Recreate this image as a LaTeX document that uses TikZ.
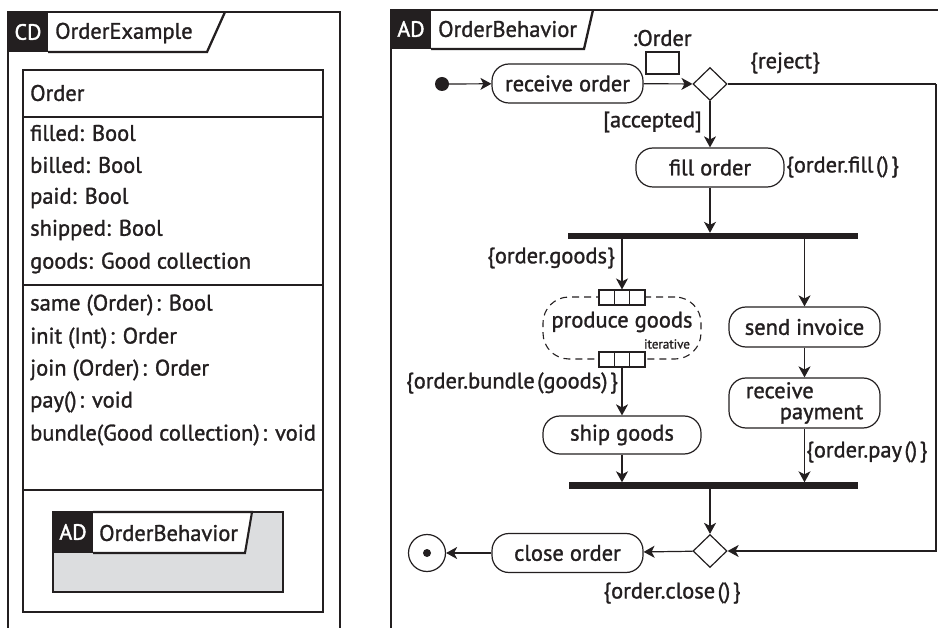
\documentclass[tikz,border=0pt]{standalone}
\usepackage{fontspec}
\setmainfont{PT Sans}[FakeBold=1.3]
\newfontfamily\tagfont{PT Sans}[FakeBold=1.8]
\usetikzlibrary{arrows.meta,shapes.geometric}

\definecolor{ink}{RGB}{35,31,32}
\definecolor{panel}{RGB}{220,221,223}

\tikzset{
  frameline/.style={draw=ink, line width=2.3pt},
  boxline/.style={draw=ink, line width=2.1pt},
  txt/.style={text=ink, inner sep=0pt, font=\fontsize{22.5}{25}\selectfont},
  member/.style={txt, anchor=west},
  smalltxt/.style={text=ink, inner sep=0pt, font=\fontsize{13}{15}\selectfont},
  tagtxt/.style={text=white, inner sep=0pt, font=\tagfont\fontsize{22}{25}\selectfont},
  action/.style={draw=ink, line width=1.2pt, rounded corners=17pt, fill=white,
    minimum width=151pt, minimum height=39pt, inner sep=0pt, text=ink,
    font=\fontsize{22.5}{25}\selectfont},
  decision/.style={diamond, draw=ink, line width=1.2pt, fill=white,
    minimum width=34pt, minimum height=33pt, inner sep=0pt},
  syncbar/.style={fill=ink, draw=none, minimum height=6pt, inner sep=0pt},
  pinrow/.style={draw=ink, fill=white, line width=1.1pt, minimum width=46pt,
    minimum height=15pt, inner sep=0pt},
  flow/.style={draw=ink, line width=1.2pt,
    -{Stealth[length=11pt,width=12pt,inset=3pt]}},
  edge/.style={draw=ink, line width=1.2pt}
}
\newcommand{\gp}{\kern2.5pt}

\begin{document}
\begin{tikzpicture}[x=1pt,y=-1pt]
\useasboundingbox (0,0) rectangle (938,628);

% ---------------- class diagram frame ----------------
\draw[frameline] (8,628) -- (8,12) -- (340,12) -- (340,628);
\fill[ink] (8,12) rectangle (48,52);
\draw[frameline] (48,52) -- (207,52) -- (225,12);
\node[tagtxt] (cdtag) at (28,32) {CD};
\node[member] (cdname) at (55,33) {OrderExample};

% class Order
\draw[boxline] (23,70) rectangle (323,612);
\draw[boxline] (23,117) -- (323,117);
\draw[boxline] (23,285) -- (323,285);
\draw[boxline] (23,490) -- (323,490);
\node[member] (cname) at (30,93) {Order};
\node[member] (a1) at (30,133) {filled: Bool};
\node[member] (a2) at (30,165) {billed: Bool};
\node[member] (a3) at (30,198) {paid: Bool};
\node[member] (a4) at (30,230) {shipped: Bool};
\node[member] (a5) at (30,263) {goods: Good collection};
\node[member] (o1) at (30,305) {same (Order)\gp: Bool};
\node[member] (o2) at (30,338) {init (Int)\gp: Order};
\node[member] (o3) at (30,370) {join (Order)\gp: Order};
\node[member] (o4) at (30,402) {pay()\gp: void};
\node[member] (o5) at (30,435) {bundle(Good collection)\gp: void};

% behaviour reference inside the class
\draw[boxline, fill=panel] (53,512) rectangle (283,592);
\draw[boxline, fill=white] (93,512) -- (252,512) -- (245,553) -- (93,553);
\fill[ink] (53,512) rectangle (93,553);
\node[tagtxt] (adtag2) at (73,532) {AD};
\node[member] (adname2) at (99,533) {OrderBehavior};

% ---------------- activity diagram frame ----------------
\draw[frameline] (391,628) -- (391,10) -- (938,10);
\fill[ink] (391,10) rectangle (431,49);
\draw[frameline] (431,49) -- (584,49) -- (593,10);
\node[tagtxt] (adtag) at (411,29) {AD};
\node[member] (adname) at (438,29) {OrderBehavior};

% nodes
\node[circle, fill=ink, minimum size=14pt, inner sep=0pt] (init) at (442,84) {};
\node[action] (recv) at (567.5,83.5) {receive order};
\node[pinrow, minimum width=33pt, minimum height=22pt] (opin) at (662.5,63) {};
\node[txt] (opinlbl) at (662,38) {:Order};
\node[decision] (d1) at (710,84) {};
\node[action, minimum width=148pt] (fill) at (710,167.5) {fill order};
\node[syncbar, minimum width=290pt] (fork) at (713,236) {};

\node[draw=ink, line width=1.1pt, dashed, dash pattern=on 7pt off 5pt,
  rounded corners=26pt, minimum width=158pt, minimum height=62pt]
  (prodbox) at (622,328) {};
\node[txt] (prod) at (622,322) {produce goods};
\node[smalltxt] (iter) at (667,344) {iterative};
\node[pinrow] (pinA) at (622,297.5) {};
\node[pinrow] (pinB) at (622,359.5) {};
\foreach \p in {pinA,pinB}{
  \draw[ink, line width=1.1pt] ([xshift=-7.67pt]\p.north) -- ([xshift=-7.67pt]\p.south);
  \draw[ink, line width=1.1pt] ([xshift=7.67pt]\p.north) -- ([xshift=7.67pt]\p.south);
}
\node[action, minimum width=158pt, minimum height=38pt] (ship) at (622,435) {ship goods};

\node[action, minimum height=40pt] (send) at (804.5,327) {send invoice};
\node[action, minimum height=50pt, align=left] (pay) at (804.5,403)
  {receive\\[-4pt]\hspace*{34pt}payment};

\node[syncbar, minimum width=289pt] (join) at (713.5,485.5) {};
\node[decision] (d2) at (710,551) {};
\node[action] (close) at (567.5,553) {close order};
\node[circle, draw=ink, line width=1.2pt, fill=white, minimum size=37pt, inner sep=0pt] (final) at (427,553) {};
\node[circle, fill=ink, minimum size=8pt, inner sep=0pt] (finaldot) at (final) {};

% connectors
\coordinate (rjtop) at (936,84);
\draw[flow] (init) -- (recv);
\draw[flow] (recv) -- (d1);
\draw[flow] (d1) -- (fill);
\draw[edge] (d1.east) -- (rjtop);
\draw[flow] (rjtop) |- (d2.east);
\draw[flow] (fill) -- (fill |- fork.north);
\draw[flow] (fork.south -| pinA) -- (pinA.north);
\draw[flow] (fork.south -| send) -- (send.north);
\draw[flow] (pinB) -- (ship);
\draw[flow] (send) -- (pay);
\draw[flow] (ship) -- (ship |- join.north);
\draw[flow] (pay) -- (pay |- join.north);
\draw[flow] (join.south -| d2) -- (d2.north);
\draw[flow] (d2) -- (close);
\draw[flow] (close) -- (final);

% guards and effects
\node[txt, anchor=west] (lreject) at (750,63) {\{reject\}};
\node[txt, anchor=east] (lacc) at (702,122) {[accepted]};
\node[txt, anchor=west] (lfill) at (786,167) {\{order.fill\gp()\gp\}};
\node[txt, anchor=east] (lgoods) at (615,258) {\{order.goods\}};
\node[txt, anchor=east] (lbundle) at (618,383) {\{order.bundle\gp(goods)\gp\}};
\node[txt, anchor=west] (lpay) at (806,452) {\{order.pay\gp()\gp\}};
\node[txt] (lclose) at (672,593) {\{order.close\gp()\gp\}};
\end{tikzpicture}
\end{document}
